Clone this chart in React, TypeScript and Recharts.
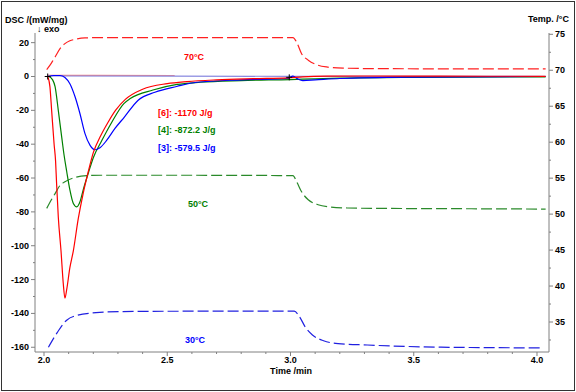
import React from "react";
import { ComposedChart, Line, XAxis, YAxis, Scatter } from "recharts";

// tick labels
const timeTicks = [2.0, 2.5, 3.0, 3.5, 4.0];
const timeMinorTicks = [2.1, 2.2, 2.3, 2.4, 2.6, 2.7, 2.8, 2.9, 3.1, 3.2, 3.3, 3.4, 3.6, 3.7, 3.8, 3.9];
const dscTicks = [20, 0, -20, -40, -60, -80, -100, -120, -140, -160];
const dscMinorTicks = [10, -10, -30, -50, -70, -90, -110, -130, -150];
const tempTicks = [75, 70, 65, 60, 55, 50, 45, 40, 35];
const tempMinorTicks = [72.5, 67.5, 62.5, 57.5, 52.5, 47.5, 42.5, 37.5, 32.5];

// DSC curves (mW/mg)
const dsc6Time = [2.015, 2.024, 2.031, 2.041, 2.047, 2.051, 2.058, 2.069, 2.078, 2.085, 2.092, 2.105, 2.119, 2.139, 2.159, 2.18, 2.2, 2.23, 2.26, 2.29, 2.33, 2.4, 2.5, 2.58, 2.7, 2.85, 2.99, 3.05, 3.15, 3.3, 3.6, 4.035];
const dsc6Value = [0, -6, -20, -40, -50, -63, -83, -103, -122, -131, -126, -113, -103, -84, -69, -56, -45, -35, -27, -20, -13.5, -7.5, -4.2, -3, -2, -1.3, -0.8, -0.2, 0.2, 0.3, 0.2, 0.1];

const dsc4Time = [2.02, 2.035, 2.045, 2.058, 2.072, 2.082, 2.092, 2.105, 2.119, 2.133, 2.146, 2.159, 2.18, 2.2, 2.234, 2.275, 2.324, 2.35, 2.442, 2.54, 2.633, 2.8, 3.0, 3.05, 3.2, 3.5, 4.035];
const dsc4Value = [0, -2, -6, -20, -36, -47, -56, -67, -75, -77, -74, -67, -57, -48, -38, -27, -16, -13, -8, -4.7, -3.4, -2.4, -1.8, -1.6, -1, -0.5, -0.2];

const dsc3Time = [2.017, 2.04, 2.065, 2.085, 2.105, 2.126, 2.146, 2.166, 2.187, 2.207, 2.227, 2.254, 2.288, 2.326, 2.382, 2.45, 2.538, 2.62, 2.8, 2.99, 3.01, 3.03, 3.05, 3.1, 3.2, 3.5, 4.035];
const dsc3Value = [0, 0.6, 0.6, -0.6, -4.3, -12, -22, -33.6, -40.7, -43.3, -42.1, -37.8, -30.7, -24, -14, -9.3, -5.9, -3.4, -2, -1.2, 0.2, -1.5, -2.4, -2, -1.2, -0.4, 0];

// baselines near zero
const basePinkTime = [2.015, 2.2, 2.53];
const basePinkValue = [0.7, 0.7, 0.6];
const baseBlueTime = [2.015, 2.5, 3.0, 3.5, 4.035];
const baseBlueValue = [0.3, 0.2, 0.1, 0.1, 0.1];

// temperature curves (°C)
const temp70Time = [2.011, 2.03, 2.045, 2.065, 2.085, 2.105, 2.126, 2.166, 2.25, 2.6, 3.01, 3.025, 3.045, 3.072, 3.112, 3.146, 3.214, 3.363, 3.7, 4.035];
const temp70Value = [70.1, 71.0, 71.85, 73.0, 73.7, 74.1, 74.3, 74.5, 74.55, 74.55, 74.55, 73.9, 72.3, 71.4, 70.7, 70.46, 70.3, 70.22, 70.2, 70.2];

const temp50Time = [2.011, 2.03, 2.045, 2.065, 2.085, 2.126, 2.173, 2.234, 2.6, 3.01, 3.025, 3.045, 3.072, 3.112, 3.16, 3.23, 3.34, 3.7, 4.035];
const temp50Value = [50.8, 52.0, 52.85, 54.0, 54.5, 55.1, 55.35, 55.4, 55.4, 55.35, 54.5, 53.1, 52.0, 51.3, 51.0, 50.85, 50.8, 50.75, 50.7];

const temp30Time = [2.018, 2.055, 2.092, 2.137, 2.211, 2.301, 2.6, 3.015, 3.037, 3.06, 3.089, 3.134, 3.193, 3.312, 3.61, 4.027];
const temp30Value = [31.5, 33.6, 35.25, 35.95, 36.3, 36.45, 36.5, 36.5, 35.7, 34.3, 33.2, 32.4, 32.0, 31.8, 31.5, 31.4];

const markerTime = [2.015, 2.995];
const markerValue = [0, -0.5];

const zip = (t: number[], v: number[]) => t.map((x, i) => ({ t: x, v: v[i] }));

const font = "'Liberation Sans', Arial, sans-serif";
const axisGray = "#808080";

const LeftTick = (props: any) => {
  const { x, y, payload } = props;
  const major = dscTicks.includes(payload.value);
  return (
    <g>
      <line x1={x} x2={x - (major ? 4 : 2)} y1={y} y2={y} stroke={axisGray} />
      {major && (
        <text x={x - 6} y={y} dy={3} textAnchor="end" fontSize={9} fontWeight="bold" fontFamily={font} fill="#000">
          {payload.value}
        </text>
      )}
    </g>
  );
};

const RightTick = (props: any) => {
  const { x, y, payload } = props;
  const major = tempTicks.includes(payload.value);
  return (
    <g>
      <line x1={x} x2={x + (major ? 4 : 2)} y1={y} y2={y} stroke={axisGray} />
      {major && (
        <text x={x + 6} y={y} dy={3} textAnchor="start" fontSize={9} fontWeight="bold" fontFamily={font} fill="#000">
          {payload.value}
        </text>
      )}
    </g>
  );
};

const BottomTick = (props: any) => {
  const { x, y, payload } = props;
  const major = timeTicks.includes(payload.value);
  return (
    <g>
      <line x1={x} x2={x} y1={y} y2={y + (major ? 4 : 2)} stroke={axisGray} />
      {major && (
        <text x={x} y={y + 11} textAnchor="middle" fontSize={9} fontWeight="bold" fontFamily={font} fill="#000">
          {payload.value.toFixed(1)}
        </text>
      )}
    </g>
  );
};

const Plus = (props: any) => {
  const { cx, cy } = props;
  return <path d={`M${cx - 3},${cy}h6M${cx},${cy - 3}v6`} stroke="#000" strokeWidth={1} />;
};

const label = (left: number, top: number, color: string, text: string, center = false) => (
  <div
    style={{
      position: "absolute",
      left,
      top,
      color,
      font: `bold 9px ${font}`,
      lineHeight: "10px",
      whiteSpace: "nowrap",
      transform: center ? "translateX(-50%)" : undefined,
    }}
  >
    {text}
  </div>
);

export default function App() {
  return (
    <div style={{ position: "absolute", left: 0, top: 0, width: 576, height: 392, background: "#fff" }}>
      <div
        style={{
          position: "absolute",
          left: 1,
          top: 1,
          width: 572,
          height: 388,
          border: "1px solid #333",
        }}
      />
      <ComposedChart width={576} height={392} margin={{ top: 33, right: 0, bottom: 0, left: 0 }}>
        <XAxis
          dataKey="t"
          type="number"
          domain={[1.9635, 4.0487]}
          ticks={[...timeTicks, ...timeMinorTicks]}
          interval={0}
          height={40}
          stroke={axisGray}
          tickLine={false}
          tickSize={0}
          tickMargin={0}
          tick={<BottomTick />}
          allowDataOverflow
        />
        <YAxis
          yAxisId="dsc"
          orientation="left"
          type="number"
          domain={[-162.8, 25.7]}
          ticks={[...dscTicks, ...dscMinorTicks]}
          interval={0}
          width={35}
          stroke={axisGray}
          tickLine={false}
          tickSize={0}
          tickMargin={0}
          tick={<LeftTick />}
          allowDataOverflow
        />
        <YAxis
          yAxisId="temp"
          orientation="right"
          type="number"
          domain={[30.83, 75.18]}
          ticks={[...tempTicks, ...tempMinorTicks]}
          interval={0}
          width={27}
          stroke={axisGray}
          tickLine={false}
          tickSize={0}
          tickMargin={0}
          tick={<RightTick />}
          allowDataOverflow
        />
        <Line yAxisId="temp" data={zip(temp70Time, temp70Value)} dataKey="v" type="monotone" stroke="#ff2020" strokeWidth={1.2} strokeDasharray="11 4" dot={false} isAnimationActive={false} />
        <Line yAxisId="temp" data={zip(temp50Time, temp50Value)} dataKey="v" type="monotone" stroke="#2a8a2a" strokeWidth={1.2} strokeDasharray="11 4" dot={false} isAnimationActive={false} />
        <Line yAxisId="temp" data={zip(temp30Time, temp30Value)} dataKey="v" type="monotone" stroke="#2020e0" strokeWidth={1.2} strokeDasharray="11 4" dot={false} isAnimationActive={false} />
        <Line yAxisId="dsc" data={zip(basePinkTime, basePinkValue)} dataKey="v" type="linear" stroke="#f08080" strokeWidth={1.2} dot={false} isAnimationActive={false} />
        <Line yAxisId="dsc" data={zip(baseBlueTime, baseBlueValue)} dataKey="v" type="linear" stroke="#8a8ae0" strokeWidth={1.2} dot={false} isAnimationActive={false} />
        <Line yAxisId="dsc" data={zip(dsc4Time, dsc4Value)} dataKey="v" type="monotone" stroke="#008000" strokeWidth={1.2} dot={false} isAnimationActive={false} />
        <Line yAxisId="dsc" data={zip(dsc3Time, dsc3Value)} dataKey="v" type="monotone" stroke="#0000ff" strokeWidth={1.2} dot={false} isAnimationActive={false} />
        <Line yAxisId="dsc" data={zip(dsc6Time, dsc6Value)} dataKey="v" type="monotone" stroke="#ff0000" strokeWidth={1.2} dot={false} isAnimationActive={false} />
        <Scatter yAxisId="dsc" data={zip(markerTime, markerValue)} dataKey="v" shape={<Plus />} isAnimationActive={false} />
      </ComposedChart>
      {label(5, 15, "#000", "DSC /(mW/mg)")}
      {label(37, 24, "#000", "↓ exo")}
      {label(528, 14, "#000", "Temp. /°C")}
      {label(291, 366, "#000", "Time /min", true)}
      {label(194, 52, "#ff0000", "70°C", true)}
      {label(158, 108, "#ff0000", "[6]: -1170 J/g")}
      {label(158, 125, "#008000", "[4]: -872.2 J/g")}
      {label(158, 143, "#0000ff", "[3]: -579.5 J/g")}
      {label(198, 199, "#008000", "50°C", true)}
      {label(195, 335, "#0000ff", "30°C", true)}
    </div>
  );
}
